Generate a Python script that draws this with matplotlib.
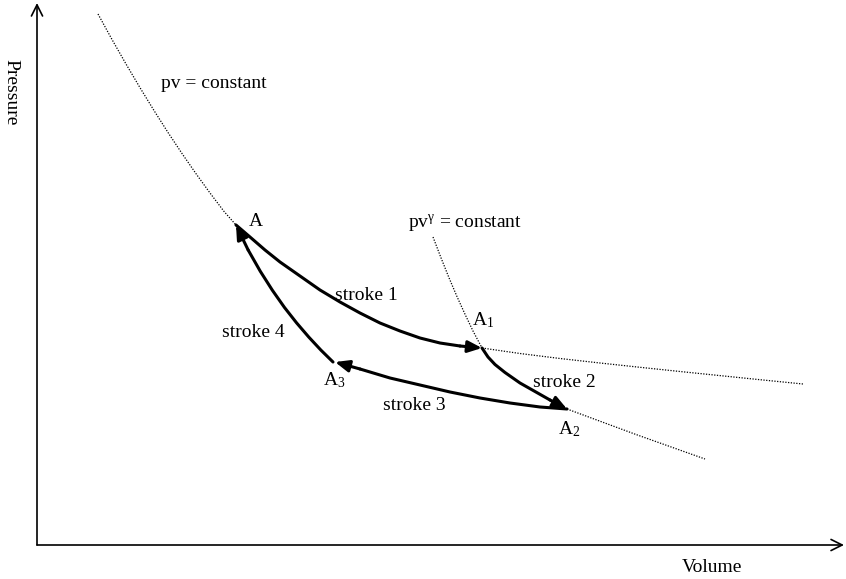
import matplotlib
matplotlib.use('Agg')
import matplotlib.pyplot as plt
from matplotlib.patches import FancyArrowPatch

plt.rcParams['font.family'] = ['Liberation Serif', 'DejaVu Serif']
plt.rcParams['mathtext.fontset'] = 'custom'
plt.rcParams['mathtext.rm'] = 'Liberation Serif'
plt.rcParams['mathtext.it'] = 'Liberation Serif:italic'

# curves (volume, pressure in arbitrary units)
iso_top_v = [0.61, 0.75, 0.89, 1.03, 1.17, 1.31, 1.45, 1.59, 1.73, 1.87, 1.99]
iso_top_p = [5.31, 5.055, 4.81, 4.573, 4.345, 4.125, 3.915, 3.713, 3.52, 3.336, 3.20]
iso_low_v = [4.45, 4.83, 5.23, 5.63, 6.03, 6.43, 6.83, 7.23, 7.66]
iso_low_p = [1.97, 1.915, 1.865, 1.82, 1.777, 1.735, 1.694, 1.653, 1.61]

adi_top_v = [3.96, 4.04, 4.12, 4.20, 4.28, 4.36, 4.45]
adi_top_p = [3.08, 2.872, 2.672, 2.484, 2.308, 2.14, 1.97]
adi_low_v = [5.30, 5.99, 6.68]
adi_low_p = [1.36, 1.105, 0.86]

stroke1_v = [1.99, 2.13, 2.28, 2.43, 2.63, 2.83, 3.03, 3.23, 3.43, 3.63, 3.83, 4.03, 4.23, 4.45]
stroke1_p = [3.20, 3.08, 2.95, 2.83, 2.69, 2.55, 2.43, 2.32, 2.22, 2.14, 2.07, 2.02, 1.99, 1.97]
stroke2_v = [4.45, 4.51, 4.58, 4.68, 4.83, 4.98, 5.13, 5.30]
stroke2_p = [1.97, 1.88, 1.805, 1.725, 1.62, 1.535, 1.45, 1.36]
stroke3_v = [5.30, 5.03, 4.73, 4.43, 4.13, 3.83, 3.53, 3.23, 2.98]
stroke3_p = [1.36, 1.38, 1.42, 1.47, 1.53, 1.60, 1.67, 1.76, 1.83]
stroke4_v = [2.96, 2.839, 2.718, 2.596, 2.475, 2.354, 2.233, 2.111, 1.99]
stroke4_p = [1.83, 1.949, 2.079, 2.221, 2.375, 2.547, 2.737, 2.951, 3.20]

fig = plt.figure(figsize=(8.46, 5.79), dpi=100)
ax = fig.add_axes([0, 0, 1, 1])
ax.set_xlim(-0.37, 8.09)
ax.set_ylim(-0.34, 5.45)
ax.axis('off')

dot = dict(color='k', lw=0.9, linestyle=(0, (1, 1.2)))
ax.plot(iso_top_v, iso_top_p, **dot)
ax.plot(iso_low_v, iso_low_p, **dot)
ax.plot(adi_top_v, adi_top_p, **dot)
ax.plot(adi_low_v, adi_low_p, **dot)

# the four strokes, arrow head on the last segment
for sv, sp in [(stroke1_v, stroke1_p), (stroke2_v, stroke2_p),
               (stroke3_v, stroke3_p), (stroke4_v, stroke4_p)]:
    ax.plot(sv[:-1], sp[:-1], color='k', lw=2.2, solid_capstyle='round',
            solid_joinstyle='round')
    arr = FancyArrowPatch((sv[-2], sp[-2]), (sv[-1], sp[-1]),
                          arrowstyle='-|>,head_length=0.6,head_width=0.25',
                          mutation_scale=14, color='k', lw=2.2,
                          shrinkA=0, shrinkB=0)
    ax.add_patch(arr)

# axes with open arrow heads
for end in [(8.07, 0), (0, 5.42)]:
    ax.add_patch(FancyArrowPatch((0, 0), end, arrowstyle='->',
                                 mutation_scale=20, color='k', lw=1.2,
                                 shrinkA=0, shrinkB=0))

fs = 14
ax.text(1.24, 4.57, 'pv = constant', fontsize=fs, va='baseline')
ax.text(3.71, 3.18, r'pv$^{\mathrm{\gamma}}$ = constant', fontsize=fs, va='baseline')
ax.text(2.12, 3.19, 'A', fontsize=fs, va='baseline')
ax.text(4.35, 2.20, r'A$_1$', fontsize=fs, va='baseline')
ax.text(5.21, 1.11, r'A$_2$', fontsize=fs, va='baseline')
ax.text(2.86, 1.60, r'A$_3$', fontsize=fs, va='baseline')
ax.text(2.98, 2.45, 'stroke 1', fontsize=fs, va='baseline')
ax.text(4.96, 1.58, 'stroke 2', fontsize=fs, va='baseline')
ax.text(3.46, 1.35, 'stroke 3', fontsize=fs, va='baseline')
ax.text(1.85, 2.08, 'stroke 4', fontsize=fs, va='baseline')
ax.text(6.45, -0.27, 'Volume', fontsize=fs, va='baseline')
ax.text(-0.26, 4.53, 'Pressure', fontsize=fs, rotation=-90,
        ha='center', va='center')

fig.savefig('out.png', dpi=100)
